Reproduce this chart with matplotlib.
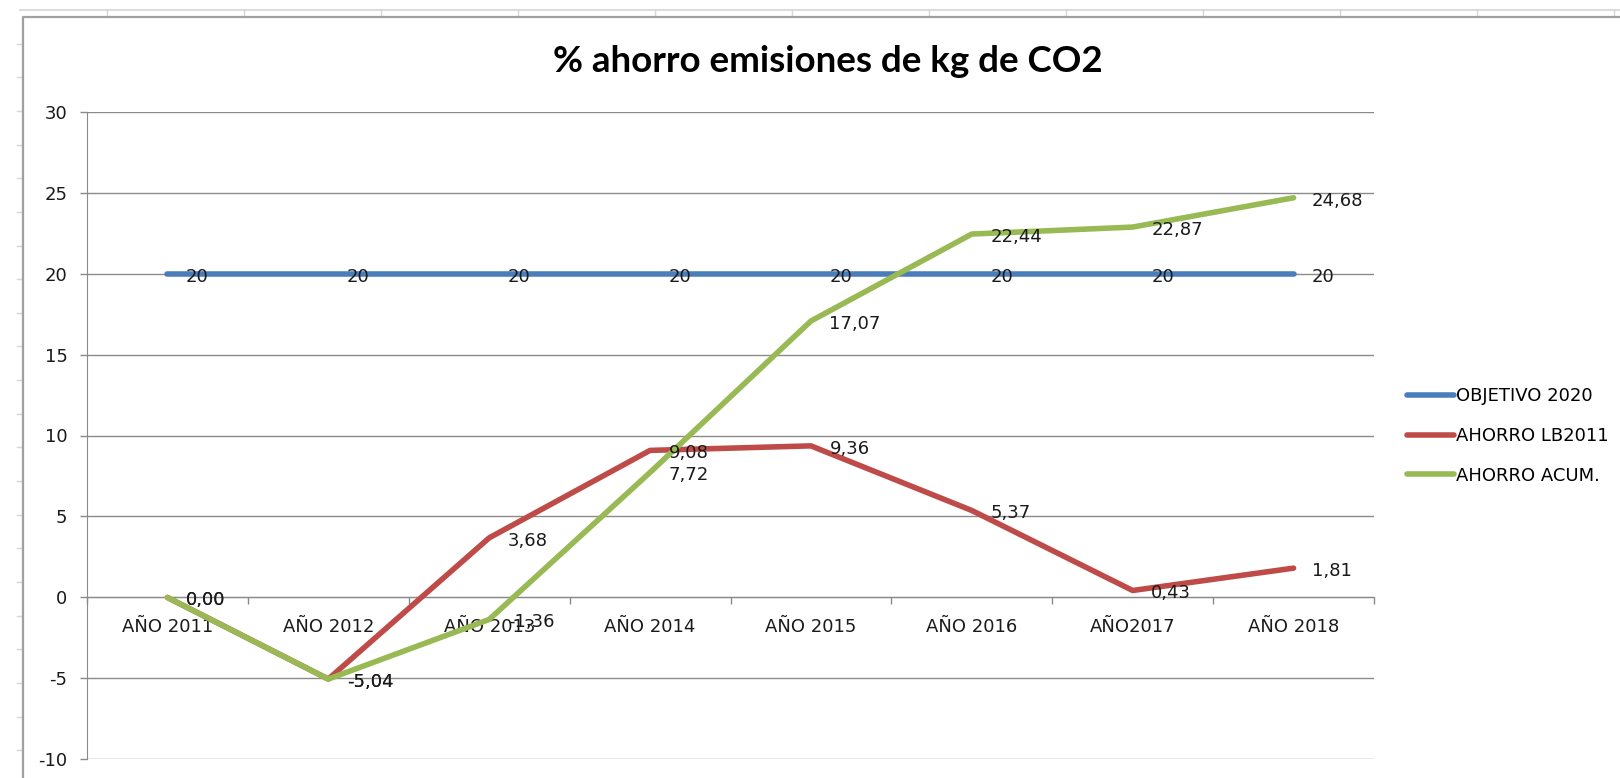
import numpy as np
import matplotlib
matplotlib.use("Agg")
import matplotlib.pyplot as plt
from matplotlib.lines import Line2D

plt.rcParams['font.family'] = ['DejaVu Sans']
plt.rcParams['axes.unicode_minus'] = False

# Datos
anios = ['AÑO 2011', 'AÑO 2012', 'AÑO 2013', 'AÑO 2014',
         'AÑO 2015', 'AÑO 2016', 'AÑO2017', 'AÑO 2018']
objetivo_2020 = [20, 20, 20, 20, 20, 20, 20, 20]
ahorro_lb2011 = [0.00, -5.04, 3.68, 9.08, 9.36, 5.37, 0.43, 1.81]
ahorro_acum = [0.00, -5.04, -1.36, 7.72, 17.07, 22.44, 22.87, 24.68]
yticks = [-10, -5, 0, 5, 10, 15, 20, 25, 30]

W, H = 1620, 778
fig = plt.figure(figsize=(W / 100, H / 100), dpi=100)

# Fondo de hoja de calculo (lineas de celdas) y marco del grafico
gris_celda = '#d6d6d6'
fig.add_artist(Line2D([20 / W, 1], [1 - 10 / H, 1 - 10 / H], transform=fig.transFigure,
                      color=gris_celda, lw=1.2))
for xc in np.arange(107, W, 137):
    fig.add_artist(Line2D([xc / W, xc / W], [1 - 10 / H, 1 - 17 / H], transform=fig.transFigure,
                          color=gris_celda, lw=1.0))
for yr in np.arange(43.6, H, 33.65):
    fig.add_artist(Line2D([17 / W, 22 / W], [1 - yr / H, 1 - yr / H], transform=fig.transFigure,
                          color=gris_celda, lw=1.0))
fig.add_artist(Line2D([23 / W, 23 / W, 1], [0, 1 - 17 / H, 1 - 17 / H], transform=fig.transFigure,
                      color='#a0a0a0', lw=1.6))

ax = fig.add_axes([87 / W, 1 - 759.4 / H, 1287 / W, 647.8 / H])

x = np.arange(len(anios)) + 0.5
gris = '#8a8a8a'
series = [
    (objetivo_2020, 'OBJETIVO 2020', '#4a7ebb', lambda v: '%g' % v),
    (ahorro_lb2011, 'AHORRO LB2011', '#be4b48', lambda v: ('%.2f' % v).replace('.', ',')),
    (ahorro_acum, 'AHORRO ACUM.', '#98b954', lambda v: ('%.2f' % v).replace('.', ',')),
]

for i, (vals, nombre, color, fmt) in enumerate(series):
    ax.plot(x, vals, color=color, lw=4, label=nombre, zorder=3 + i,
            solid_capstyle='round', solid_joinstyle='round')

# Etiquetas de datos a la derecha de cada punto
for vals, nombre, color, fmt in series:
    for xi, v in zip(x, vals):
        ax.annotate(fmt(v), (xi, v), xytext=(18.5, -3), textcoords='offset pixels',
                    ha='left', va='center', fontsize=13, color='#1a1a1a', zorder=10)

ax.set_xlim(0, len(anios))
ax.set_ylim(-10, 30)
ax.set_yticks(yticks)
ax.set_xticks(np.arange(len(anios) + 1))
ax.set_xticklabels([])
ax.set_xticks(x, minor=True)
ax.set_xticklabels(anios, minor=True)

ax.tick_params(axis='y', which='major', length=5, width=1, color=gris, pad=9,
               labelsize=13, labelcolor='#1a1a1a')
ax.tick_params(axis='x', which='major', length=5, width=1, color=gris, direction='out')
ax.tick_params(axis='x', which='minor', length=0, pad=15, labelsize=13, labelcolor='#1a1a1a')

ax.yaxis.grid(True, color=gris, lw=1)
ax.set_axisbelow(True)
for s in ['top', 'right']:
    ax.spines[s].set_visible(False)
ax.spines['left'].set_color(gris)
ax.spines['bottom'].set_color(gris)
ax.spines['bottom'].set_position(('data', 0))

fig.text(828 / W, 1 - 62 / H, '% ahorro emisiones de kg de CO2', ha='center', va='center',
         fontsize=26.5, fontweight='bold', family='Lato', color='black')

fig.legend(loc='center left', bbox_to_anchor=(1407 / W, 1 - 436 / H), frameon=False,
           borderpad=0, borderaxespad=0, handlelength=2.58, handletextpad=0.15,
           labelspacing=1.2, fontsize=13)

fig.savefig('out.png', dpi=100)
